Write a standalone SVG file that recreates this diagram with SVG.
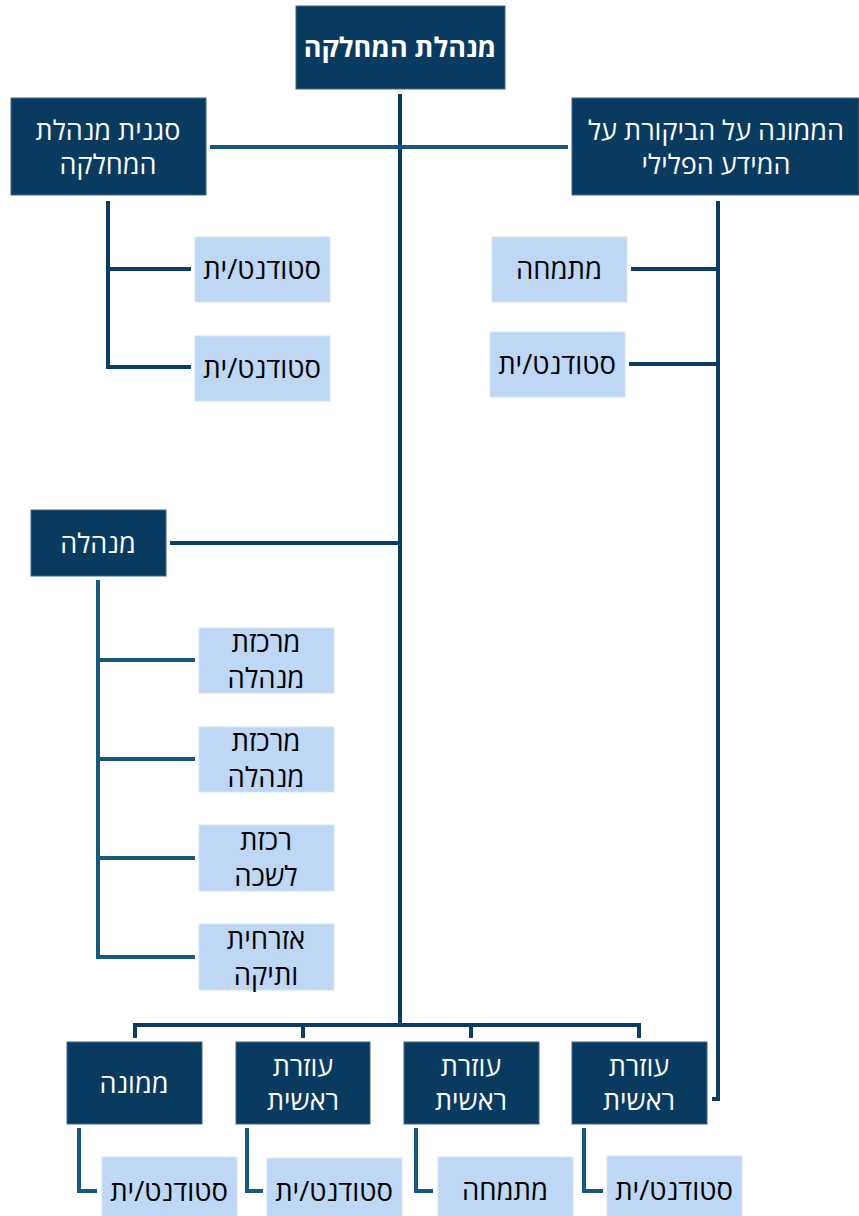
<svg xmlns="http://www.w3.org/2000/svg" width="859" height="1216" viewBox="0 0 859 1216">
<style>
.d{fill:#093a5f;stroke:#3e6688;stroke-width:1}
.l{fill:#bdd7f4;stroke:#d4e4f7;stroke-width:1}
.tw{fill:#fff;font-family:"Open Sans","Liberation Sans",sans-serif;font-size:27px;text-anchor:middle;direction:rtl}
.tb{fill:#000;font-family:"Open Sans","Liberation Sans",sans-serif;font-size:27.5px;text-anchor:middle;direction:rtl}
.c{fill:none;stroke:#0b3c61;stroke-width:4}
.c2{fill:none;stroke:#17587c;stroke-width:4}
</style>
<rect width="859" height="1216" fill="#fff"/>
<g id="connectors">
<path class="c" d="M400 94V1025"/>
<path class="c2" d="M210 147H568"/>
<path class="c" d="M108 201V367H191M108 269H191"/>
<path class="c" d="M718 201V1099H712M631 269H718M629 364H718"/>
<path class="c" d="M170 543H400"/>
<path class="c2" d="M98 580V957H195M98 660H195M98 759H195M98 858H195"/>
<path class="c" d="M135 1038V1025H639V1038M303 1025V1038M471 1025V1038"/>
<path class="c2" d="M79 1128V1191H97"/>
<path class="c2" d="M247 1128V1191H263"/>
<path class="c2" d="M416 1128V1191H433"/>
<path class="c2" d="M584 1128V1191H603"/>
</g>
<g id="n-head"><rect class="d" x="296" y="6" width="209" height="83"/><text class="tw" x="400" y="57" font-weight="bold" font-size="28">מנהלת המחלקה</text></g>
<g id="n-deputy"><rect class="d" x="11" y="98" width="195" height="97"/><text class="tw" x="108" y="140" font-size="26">סגנית מנהלת</text><text class="tw" x="108" y="174" font-size="26">המחלקה</text></g>
<g id="n-commissioner"><rect class="d" x="572" y="98" width="287" height="97"/><text class="tw" x="716" y="140" font-size="26">הממונה על הביקורת על</text><text class="tw" x="716" y="174" font-size="26">המידע הפלילי</text></g>
<g id="n-s1"><rect class="l" x="195" y="237" width="135" height="65"/><text class="tb" x="262" y="279">סטודנט/ית</text></g>
<g id="n-s2"><rect class="l" x="195" y="336" width="135" height="65"/><text class="tb" x="262" y="378">סטודנט/ית</text></g>
<g id="n-intern1"><rect class="l" x="492" y="237" width="135" height="65"/><text class="tb" x="559" y="279">מתמחה</text></g>
<g id="n-s3"><rect class="l" x="490" y="332" width="135" height="65"/><text class="tb" x="557" y="374">סטודנט/ית</text></g>
<g id="n-admin"><rect class="d" x="31" y="510" width="135" height="66"/><text class="tw" x="98" y="553">מנהלה</text></g>
<g id="n-a1"><rect class="l" x="199" y="628" width="135" height="65"/><text class="tb" x="266" y="652">מרכזת</text><text class="tb" x="266" y="688">מנהלה</text></g>
<g id="n-a2"><rect class="l" x="199" y="727" width="135" height="65"/><text class="tb" x="266" y="751">מרכזת</text><text class="tb" x="266" y="787">מנהלה</text></g>
<g id="n-a3"><rect class="l" x="199" y="825" width="135" height="66"/><text class="tb" x="266" y="850">רכזת</text><text class="tb" x="266" y="886">לשכה</text></g>
<g id="n-a4"><rect class="l" x="199" y="924" width="135" height="66"/><text class="tb" x="266" y="949">אזרחית</text><text class="tb" x="266" y="985">ותיקה</text></g>
<g id="n-b1"><rect class="d" x="67" y="1042" width="135" height="82"/><text class="tw" x="134" y="1093">ממונה</text></g>
<g id="n-b2"><rect class="d" x="236" y="1042" width="134" height="82"/><text class="tw" x="303" y="1076">עוזרת</text><text class="tw" x="303" y="1110">ראשית</text></g>
<g id="n-b3"><rect class="d" x="404" y="1042" width="135" height="82"/><text class="tw" x="471" y="1076">עוזרת</text><text class="tw" x="471" y="1110">ראשית</text></g>
<g id="n-b4"><rect class="d" x="572" y="1042" width="135" height="82"/><text class="tw" x="639" y="1076">עוזרת</text><text class="tw" x="639" y="1110">ראשית</text></g>
<g id="n-c1"><rect class="l" x="102" y="1157" width="135" height="62"/><text class="tb" x="169" y="1201">סטודנט/ית</text></g>
<g id="n-c2"><rect class="l" x="267" y="1158" width="135" height="61"/><text class="tb" x="334" y="1201">סטודנט/ית</text></g>
<g id="n-c3"><rect class="l" x="438" y="1157" width="135" height="62"/><text class="tb" x="505" y="1200">מתמחה</text></g>
<g id="n-c4"><rect class="l" x="607" y="1156" width="135" height="63"/><text class="tb" x="674" y="1200">סטודנט/ית</text></g>
</svg>
